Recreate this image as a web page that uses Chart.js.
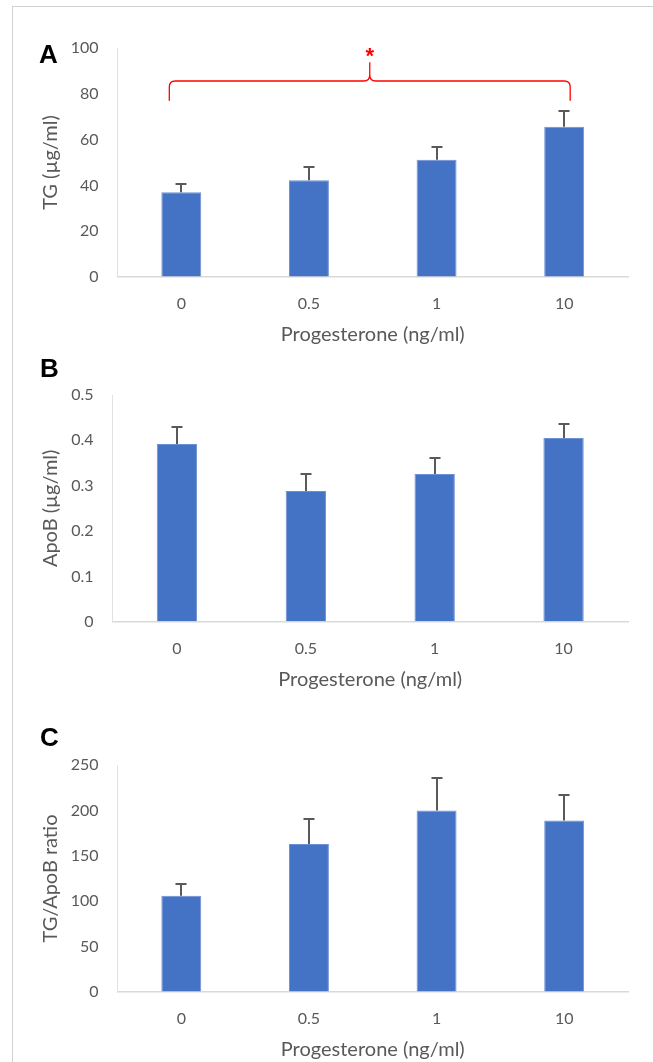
<!DOCTYPE html>
<html><head><meta charset="utf-8">
<script src="https://cdn.jsdelivr.net/npm/chart.js@4.4.1/dist/chart.umd.min.js"></script>
<style>
html,body{margin:0;padding:0;background:#fff;}
body{width:653px;height:1062px;position:relative;overflow:hidden;}
.frame{position:absolute;left:12px;top:6px;width:720px;height:1120px;border:1.5px solid #d2d2d2;box-sizing:border-box;}
canvas{position:absolute;left:0;}
.lbl{position:absolute;font:bold 26px "Liberation Sans",Arial,sans-serif;line-height:26px;color:#000;}
</style></head><body>
<div class="frame"></div>
<canvas id="cA" width="653" height="355" style="top:0px"></canvas>
<canvas id="cB" width="653" height="355" style="top:355px"></canvas>
<canvas id="cC" width="653" height="352" style="top:710px"></canvas>
<div class="lbl" style="left:39px;top:41px">A</div>
<div class="lbl" style="left:40px;top:355px">B</div>
<div class="lbl" style="left:40px;top:724px">C</div>
<script>
// ---- data ----
const categories = ['0', '0.5', '1', '10'];
const tgMean = [37.0, 42.2, 51.2, 65.6];
const tgErr = [3.8, 6.0, 5.4, 7.0];
const apoBMean = [0.392, 0.288, 0.326, 0.405];
const apoBErr = [0.037, 0.038, 0.034, 0.032];
const ratioMean = [106, 163, 200, 189];
const ratioErr = [13, 28, 36, 28];
const tgTicks = [0, 20, 40, 60, 80, 100];
const apoBTicks = [0, 0.1, 0.2, 0.3, 0.4, 0.5];
const ratioTicks = [0, 50, 100, 150, 200, 250];
const xTitle = 'Progesterone (ng/ml)';
const tgTitle = 'TG (µg/ml)';
const apoBTitle = 'ApoB (µg/ml)';
const ratioTitle = 'TG/ApoB ratio';
const sigFrom = 0, sigTo = 3, sigLabel = '*';

// ---- styling ----
const TXT = '#595959';
const FONT = 'Lato';
const X_H = 70;

const errorBars = {
  id: 'errorBars',
  afterDatasetsDraw(chart) {
    const ds = chart.data.datasets[0];
    const meta = chart.getDatasetMeta(0);
    const ys = chart.scales.y;
    const ctx = chart.ctx;
    ctx.save();
    ctx.strokeStyle = '#595959';
    ctx.lineWidth = 2;
    meta.data.forEach((bar, i) => {
      const x = Math.round(bar.x);
      const y0 = ys.getPixelForValue(ds.data[i]);
      const y1 = Math.round(ys.getPixelForValue(ds.data[i] + ds.errors[i]));
      ctx.beginPath();
      ctx.moveTo(x, y0);
      ctx.lineTo(x, y1);
      ctx.moveTo(x - 5.5, y1);
      ctx.lineTo(x + 5.5, y1);
      ctx.stroke();
    });
    ctx.restore();
  }
};

const brace = {
  id: 'brace',
  afterDatasetsDraw(chart) {
    const xs = chart.scales.x, ys = chart.scales.y, ctx = chart.ctx;
    const x1 = xs.getPixelForValue(sigFrom) - 12;
    const x2 = xs.getPixelForValue(sigTo) + 6;
    const mid = (x1 + x2) / 2;
    const yH = ys.getPixelForValue(85.6);
    const yE = ys.getPixelForValue(77.0);
    const yT = ys.getPixelForValue(93.8);
    const r = 6;
    ctx.save();
    ctx.strokeStyle = '#ff0000';
    ctx.lineWidth = 1.3;
    ctx.beginPath();
    ctx.moveTo(x1, yE);
    ctx.lineTo(x1, yH + r);
    ctx.quadraticCurveTo(x1, yH, x1 + r, yH);
    ctx.lineTo(mid - r, yH);
    ctx.quadraticCurveTo(mid, yH, mid, yH - r);
    ctx.lineTo(mid, yT);
    ctx.moveTo(mid, yH - r);
    ctx.quadraticCurveTo(mid, yH, mid + r, yH);
    ctx.lineTo(x2 - r, yH);
    ctx.quadraticCurveTo(x2, yH, x2, yH + r);
    ctx.lineTo(x2, yE);
    ctx.stroke();
    ctx.fillStyle = '#ff0000';
    ctx.font = 'bold 22px "Liberation Sans", Arial, sans-serif';
    ctx.textAlign = 'center';
    ctx.textBaseline = 'alphabetic';
    ctx.fillText(sigLabel, mid, ys.getPixelForValue(98.8) + 12.5);
    ctx.restore();
  }
};

function makeChart(id, height, area, means, errs, ticks, yTitle, extra) {
  return new Chart(document.getElementById(id), {
    type: 'bar',
    data: {
      labels: categories,
      datasets: [{
        data: means,
        errors: errs,
        backgroundColor: '#4472C4',
        borderColor: '#6d91d4',
        borderWidth: 1,
        barPercentage: 0.313,
        categoryPercentage: 1
      }]
    },
    options: {
      responsive: false,
      animation: false,
      devicePixelRatio: 1,
      layout: { padding: { left: 0, right: 653 - 628, top: area.top, bottom: Math.max(0, height - area.bottom - X_H) } },
      plugins: { legend: { display: false }, tooltip: { enabled: false } },
      scales: {
        x: {
          grid: { display: true, drawOnChartArea: false, drawTicks: false, color: 'rgba(0,0,0,0)' },
          border: { display: true, color: '#d9d9d9', width: 1.5 },
          ticks: { padding: 17.4, color: TXT, font: { family: FONT, size: 16 } },
          title: { display: true, text: xTitle, color: TXT, font: { family: FONT, size: 20 }, padding: { top: 0, bottom: 0 } },
          afterFit(s) { s.height = X_H; }
        },
        y: {
          min: 0,
          max: ticks[ticks.length - 1],
          afterBuildTicks(s) { s.ticks = ticks.map(v => ({ value: v })); },
          grid: { display: true, drawOnChartArea: false, drawTicks: false, color: 'rgba(0,0,0,0)' },
          border: { display: true, color: '#e2e2e2', width: 1 },
          ticks: { padding: 19, color: TXT, font: { family: FONT, size: 16 }, callback: v => String(+Number(v).toFixed(6)) },
          title: { display: true, text: yTitle, color: TXT, font: { family: FONT, size: 20 }, padding: { top: 39, bottom: 0 } },
          afterFit(s) { s.width = area.left; }
        }
      }
    },
    plugins: [errorBars].concat(extra || [])
  });
}

makeChart('cA', 355, { left: 117.5, top: 48, bottom: 277 }, tgMean, tgErr, tgTicks, tgTitle, [brace]);
makeChart('cB', 355, { left: 112.5, top: 40, bottom: 266.7 }, apoBMean, apoBErr, apoBTicks, apoBTitle);
makeChart('cC', 352, { left: 117.5, top: 55, bottom: 282 }, ratioMean, ratioErr, ratioTicks, ratioTitle);
</script>
</body></html>
